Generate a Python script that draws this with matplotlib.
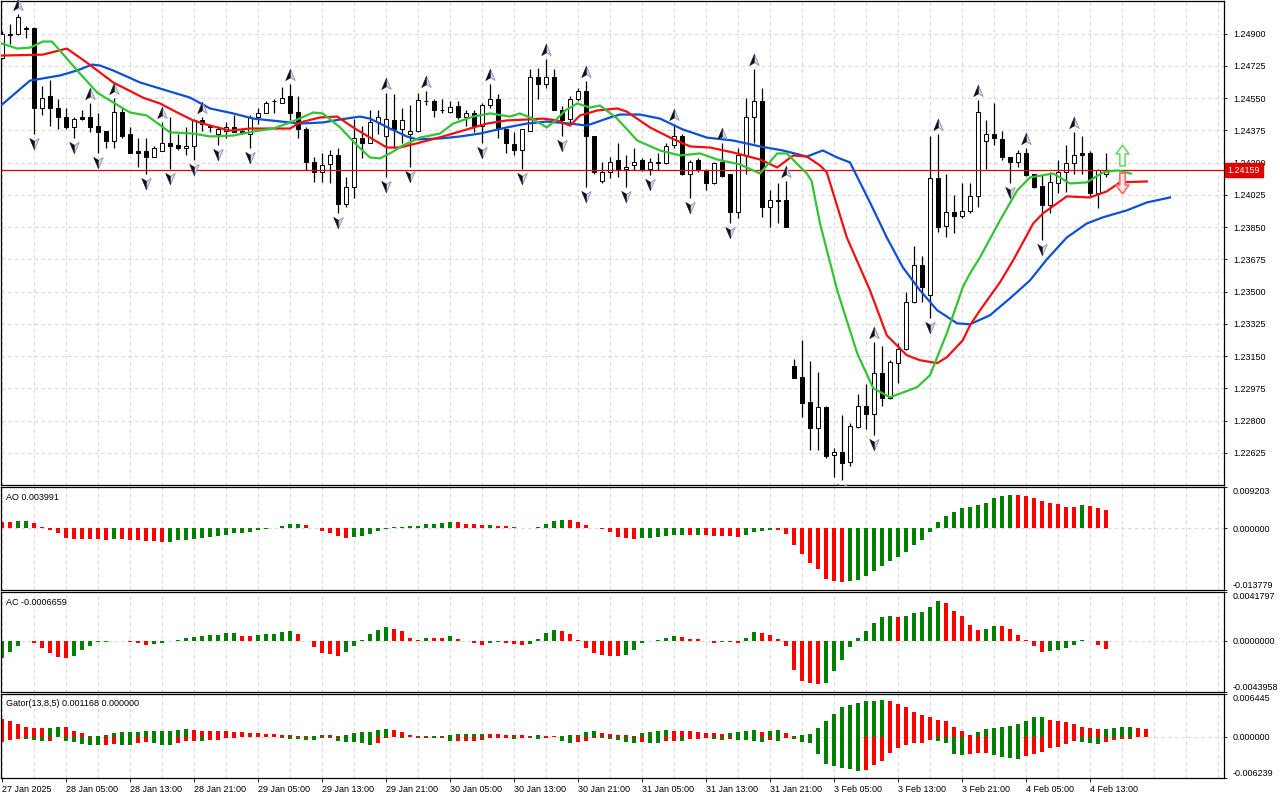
import numpy as np
import matplotlib
matplotlib.use('Agg')
from matplotlib import pyplot as plt
from matplotlib.path import Path
from matplotlib import transforms

plt.rcParams['font.family'] = ['Liberation Sans', 'DejaVu Sans']

# H1 bars, 27 Jan 21:00 .. 4 Feb 15:00 (index 0..138)
opens = [
    1.24770, 1.24900, 1.24900, 1.24933, 1.24933, 1.24499, 1.24559, 1.24499, 1.24445, 1.24396,
    1.24445, 1.24445, 1.24401, 1.24369, 1.24320, 1.24477, 1.24353, 1.24261, 1.24261, 1.24228,
    1.24261, 1.24309, 1.24293, 1.24282, 1.24288, 1.24434, 1.24401, 1.24353, 1.24374, 1.24396,
    1.24369, 1.24358, 1.24445, 1.24472, 1.24537, 1.24526, 1.24559, 1.24477, 1.24380, 1.24201,
    1.24147, 1.24190, 1.24244, 1.23973, 1.24066, 1.24336, 1.24304, 1.24418, 1.24347, 1.24434,
    1.24385, 1.24353, 1.24369, 1.24537, 1.24537, 1.24488, 1.24477, 1.24510, 1.24450, 1.24472,
    1.24401, 1.24515, 1.24548, 1.24380, 1.24299, 1.24271, 1.24374, 1.24667, 1.24629, 1.24662,
    1.24488, 1.24439, 1.24548, 1.24586, 1.24342, 1.24098, 1.24147, 1.24212, 1.24168, 1.24185,
    1.24212, 1.24168, 1.24201, 1.24196, 1.24293, 1.24342, 1.24136, 1.24212, 1.24158, 1.24087,
    1.24201, 1.24136, 1.23930, 1.24244, 1.24450, 1.24532, 1.23957, 1.23995, 1.23995, 1.23095,
    1.23036, 1.22900, 1.22759, 1.22873, 1.22613, 1.22629, 1.22575, 1.22765, 1.22879, 1.22835,
    1.23057, 1.22922, 1.23112, 1.23187, 1.23442, 1.23643, 1.23480, 1.24114, 1.23854, 1.23930,
    1.23908, 1.23935, 1.24017, 1.24315, 1.24358, 1.24326, 1.24228, 1.24201, 1.24250, 1.24136,
    1.24071, 1.23968, 1.24087, 1.24147, 1.24196, 1.24250, 1.24250, 1.24033, 1.24141]
highs = [
    1.24916, 1.24954, 1.25009, 1.24944, 1.24938, 1.24618, 1.24651, 1.24548, 1.24494, 1.24445,
    1.24483, 1.24526, 1.24472, 1.24374, 1.24553, 1.24499, 1.24396, 1.24336, 1.24336, 1.24288,
    1.24418, 1.24445, 1.24358, 1.24391, 1.24439, 1.24445, 1.24412, 1.24401, 1.24418, 1.24456,
    1.24385, 1.24456, 1.24499, 1.24537, 1.24548, 1.24613, 1.24629, 1.24564, 1.24391, 1.24233,
    1.24255, 1.24266, 1.24277, 1.24120, 1.24439, 1.24401, 1.24488, 1.24488, 1.24580, 1.24575,
    1.24499, 1.24515, 1.24580, 1.24591, 1.24548, 1.24548, 1.24532, 1.24537, 1.24483, 1.24483,
    1.24526, 1.24629, 1.24575, 1.24385, 1.24364, 1.24385, 1.24710, 1.24716, 1.24765, 1.24710,
    1.24510, 1.24564, 1.24607, 1.24645, 1.24347, 1.24201, 1.24233, 1.24304, 1.24239, 1.24277,
    1.24223, 1.24223, 1.24250, 1.24304, 1.24412, 1.24358, 1.24212, 1.24223, 1.24163, 1.24201,
    1.24309, 1.24141, 1.24282, 1.24553, 1.24710, 1.24607, 1.24049, 1.24087, 1.24103, 1.23133,
    1.23236, 1.23122, 1.23063, 1.22879, 1.22651, 1.22830, 1.22786, 1.22944, 1.22998, 1.23225,
    1.23204, 1.23128, 1.23220, 1.23496, 1.23746, 1.23692, 1.24347, 1.24358, 1.24136, 1.24022,
    1.24087, 1.24087, 1.24542, 1.24429, 1.24526, 1.24369, 1.24233, 1.24266, 1.24282, 1.24141,
    1.24131, 1.24147, 1.24212, 1.24293, 1.24364, 1.24342, 1.24261, 1.24163, 1.24250]
lows = [
    1.24765, 1.24846, 1.24895, 1.24878, 1.24358, 1.24456, 1.24401, 1.24385, 1.24385, 1.24336,
    1.24434, 1.24364, 1.24255, 1.24282, 1.24277, 1.24336, 1.24250, 1.24174, 1.24141, 1.24228,
    1.24261, 1.24168, 1.24271, 1.24244, 1.24212, 1.24374, 1.24364, 1.24293, 1.24336, 1.24364,
    1.24353, 1.24277, 1.24412, 1.24467, 1.24472, 1.24521, 1.24429, 1.24331, 1.24158, 1.24093,
    1.24093, 1.24087, 1.23925, 1.23957, 1.24006, 1.24223, 1.24304, 1.24358, 1.24120, 1.24282,
    1.24304, 1.24174, 1.24364, 1.24515, 1.24445, 1.24472, 1.24472, 1.24439, 1.24401, 1.24364,
    1.24309, 1.24499, 1.24336, 1.24250, 1.24239, 1.24168, 1.24374, 1.24548, 1.24607, 1.24483,
    1.24342, 1.24412, 1.24537, 1.24066, 1.24136, 1.24087, 1.24114, 1.24120, 1.24066, 1.24158,
    1.24152, 1.24131, 1.24158, 1.24190, 1.24282, 1.24131, 1.24006, 1.24147, 1.24049, 1.24082,
    1.24120, 1.23870, 1.23897, 1.24141, 1.24304, 1.23903, 1.23849, 1.23870, 1.23849, 1.23030,
    1.22819, 1.22640, 1.22640, 1.22597, 1.22494, 1.22477, 1.22553, 1.22759, 1.22754, 1.22721,
    1.22879, 1.22916, 1.23003, 1.23182, 1.23437, 1.23442, 1.23355, 1.23822, 1.23794, 1.23816,
    1.23897, 1.23925, 1.23962, 1.24163, 1.24293, 1.24212, 1.24087, 1.24174, 1.24125, 1.24060,
    1.23778, 1.23925, 1.24033, 1.24038, 1.24141, 1.24141, 1.24011, 1.23952, 1.24120]
closes = [
    1.24900, 1.24895, 1.24992, 1.24927, 1.24499, 1.24553, 1.24499, 1.24445, 1.24396, 1.24439,
    1.24439, 1.24396, 1.24364, 1.24320, 1.24477, 1.24347, 1.24250, 1.24255, 1.24228, 1.24282,
    1.24309, 1.24288, 1.24277, 1.24288, 1.24434, 1.24412, 1.24396, 1.24380, 1.24391, 1.24364,
    1.24364, 1.24445, 1.24472, 1.24526, 1.24532, 1.24553, 1.24472, 1.24380, 1.24201, 1.24147,
    1.24185, 1.24244, 1.23973, 1.24066, 1.24331, 1.24304, 1.24418, 1.24445, 1.24439, 1.24385,
    1.24434, 1.24369, 1.24542, 1.24532, 1.24488, 1.24483, 1.24504, 1.24445, 1.24472, 1.24401,
    1.24515, 1.24548, 1.24380, 1.24304, 1.24271, 1.24380, 1.24667, 1.24629, 1.24662, 1.24488,
    1.24429, 1.24548, 1.24586, 1.24342, 1.24147, 1.24147, 1.24206, 1.24158, 1.24179, 1.24206,
    1.24158, 1.24201, 1.24199, 1.24288, 1.24342, 1.24136, 1.24206, 1.24158, 1.24087, 1.24196,
    1.24125, 1.23930, 1.24244, 1.24450, 1.24532, 1.23957, 1.24000, 1.23990, 1.23849, 1.23030,
    1.22895, 1.22759, 1.22873, 1.22608, 1.22629, 1.22570, 1.22770, 1.22879, 1.22835, 1.23057,
    1.22922, 1.23117, 1.23187, 1.23442, 1.23643, 1.23523, 1.24114, 1.23849, 1.23930, 1.23908,
    1.23935, 1.24017, 1.24477, 1.24358, 1.24331, 1.24228, 1.24201, 1.24250, 1.24131, 1.24066,
    1.23968, 1.24093, 1.24147, 1.24196, 1.24244, 1.24244, 1.24033, 1.24158, 1.24159]
last_price = 1.24159

# fractals (bar index)
fractal_up = [2, 11, 14, 20, 25, 36, 48, 53, 61, 68, 73, 84, 90, 94, 98, 109, 117, 122, 128, 134]
fractal_dn = [4, 9, 12, 18, 21, 24, 27, 31, 42, 48, 51, 60, 65, 70, 73, 78, 81, 86, 91, 105, 109,
              116, 126, 130]

# Alligator lines (bar position, price), already shifted forward
jaw_x = [0, 3.5, 7.25, 9.4, 11.25, 12.25, 13.9, 17.25, 20.6, 23.5, 26, 28.9, 31.4, 36, 37.25,
         40.1, 42.25, 44.75, 46, 48.5, 50.6, 51.9, 54.75, 57.25, 59.75, 63.1, 65.6, 68.1, 71, 73.1,
         76, 77.25, 79.75, 82.25, 85.1, 88.1, 91.4, 94.75, 97.6, 100.6, 102.6, 104.4, 106, 108.5,
         110.6, 112.6, 114.75, 116.9, 119.4, 121, 123.5, 126, 128.5, 130.6, 133.1, 135.6, 137.6,
         140.6, 143.1, 146]
jaw_y = [1.24515, 1.24645, 1.24673, 1.24700, 1.24732, 1.24727, 1.24700, 1.24635, 1.24591, 1.24553,
         1.24494, 1.24467, 1.24439, 1.24418, 1.24412, 1.24418, 1.24434, 1.24450, 1.24439, 1.24385,
         1.24342, 1.24326, 1.24331, 1.24342, 1.24358, 1.24391, 1.24412, 1.24423, 1.24412, 1.24401,
         1.24445, 1.24461, 1.24461, 1.24439, 1.24380, 1.24336, 1.24320, 1.24288, 1.24266, 1.24233,
         1.24266, 1.24228, 1.24201, 1.23984, 1.23794, 1.23632, 1.23507, 1.23399, 1.23328, 1.23323,
         1.23372, 1.23464, 1.23561, 1.23675, 1.23794, 1.23870, 1.23903, 1.23941, 1.23984, 1.24011]
teeth_x = [0, 5.1, 8.1, 10.6, 13.9, 16.4, 17.6, 19.75, 21.9, 23.9, 26, 28.5, 31, 36, 37.25, 39.75,
           41.9, 43.9, 46, 48.1, 49.75, 52.25, 55.1, 58.1, 60.6, 63.1, 65.6, 67.6, 69.4, 71, 72.25,
           74.4, 76.9, 78.1, 81, 83.5, 86, 88.5, 91.4, 94.75, 96.9, 98.9, 100.6, 102.25, 103.1,
           105.6, 108.5, 110.6, 113.1, 114.75, 116.9, 118.1, 120.1, 121, 122.25, 123.5, 124.75,
           126.4, 128.9, 130.1, 133.1, 136, 138.1, 139.75, 143.1]
teeth_y = [1.24781, 1.24786, 1.24819, 1.24743, 1.24635, 1.24580, 1.24553, 1.24521, 1.24472, 1.24429,
           1.24401, 1.24374, 1.24385, 1.24385, 1.24418, 1.24445, 1.24450, 1.24391, 1.24336, 1.24282,
           1.24282, 1.24309, 1.24342, 1.24380, 1.24412, 1.24429, 1.24434, 1.24439, 1.24429, 1.24401,
           1.24456, 1.24483, 1.24494, 1.24477, 1.24391, 1.24336, 1.24288, 1.24282, 1.24255, 1.24217,
           1.24174, 1.24239, 1.24233, 1.24185, 1.24147, 1.23794, 1.23507, 1.23263, 1.23155, 1.23128,
           1.23112, 1.23144, 1.23236, 1.23317, 1.23399, 1.23475, 1.23551, 1.23670, 1.23870, 1.23924,
           1.24017, 1.24011, 1.24044, 1.24093, 1.24098]
lips_x = [0, 1.9, 3.5, 5.1, 6.25, 9.4, 11.9, 13.5, 16, 18.1, 21, 23.9, 26, 28.9, 31.4, 33.9, 36,
          36.9, 38.9, 40.1, 42.25, 44.4, 46, 47.25, 48.5, 50.1, 52.25, 54.75, 56.4, 58.9, 61, 63.5,
          64.75, 66, 68.1, 69.2, 70.4, 71.9, 73.5, 74.75, 76.9, 79.4, 82.25, 84.75, 87.25, 89.4,
          92.25, 94.75, 96.9, 98.1, 100.6, 101.2, 102.25, 104.4, 106.9, 108.9, 111, 114.4, 116,
          118.1, 120.1, 121, 122.25, 124.75, 126.9, 128.5, 131.4, 133.5, 135.6, 137.6, 139.4, 141.1]
lips_y = [1.24846, 1.24819, 1.24824, 1.24857, 1.24857, 1.24700, 1.24580, 1.24537, 1.24472, 1.24456,
          1.24364, 1.24358, 1.24342, 1.24347, 1.24369, 1.24385, 1.24418, 1.24434, 1.24472, 1.24467,
          1.24391, 1.24293, 1.24228, 1.24223, 1.24250, 1.24293, 1.24336, 1.24358, 1.24412, 1.24450,
          1.24467, 1.24450, 1.24467, 1.24445, 1.24391, 1.24430, 1.24483, 1.24521, 1.24499, 1.24510,
          1.24439, 1.24320, 1.24266, 1.24239, 1.24250, 1.24217, 1.24190, 1.24141, 1.24250, 1.24250,
          1.24141, 1.24100, 1.23870, 1.23507, 1.23166, 1.22976, 1.22927, 1.22982, 1.23047, 1.23274,
          1.23524, 1.23599, 1.23686, 1.23887, 1.24049, 1.24120, 1.24141, 1.24087, 1.24093, 1.24147,
          1.24158, 1.24141]

# signal arrows on the last bars (bar, price)
sig_up = (140, 1.24239)
sig_dn = (140, 1.24087)

ao = [
    0.00144, 0.00129, 0.00152, 0.00155, 0.00106, 0.00030, -0.00030, -0.00099, -0.00227, -0.00235,
    -0.00237, -0.00240, -0.00243, -0.00258, -0.00235, -0.00243, -0.00258, -0.00273, -0.00276, -0.00288,
    -0.00303, -0.00300, -0.00265, -0.00258, -0.00250, -0.00227, -0.00190, -0.00174, -0.00144, -0.00105,
    -0.00099, -0.00076, -0.00045, -0.00015, 0.00003, 0.00053, 0.00091, 0.00099, 0.00076, -0.00003,
    -0.00053, -0.00114, -0.00174, -0.00212, -0.00190, -0.00170, -0.00121, -0.00053, -0.00015, 0.00023,
    0.00038, 0.00045, 0.00053, 0.00099, 0.00101, 0.00106, 0.00144, 0.00129, 0.00099, 0.00097,
    0.00076, 0.00078, 0.00053, 0.00050, 0.00038, 0.00015, 0.00012, 0.00030, 0.00099, 0.00159,
    0.00190, 0.00188, 0.00144, 0.00076, 0.00015, -0.00023, -0.00080, -0.00190, -0.00220, -0.00235,
    -0.00212, -0.00210, -0.00190, -0.00174, -0.00152, -0.00150, -0.00153, -0.00144, -0.00152, -0.00174,
    -0.00176, -0.00178, -0.00197, -0.00144, -0.00076, -0.00060, -0.00045, -0.00047, -0.00121, -0.00379,
    -0.00576, -0.00766, -0.00917, -0.01122, -0.01175, -0.01198, -0.01175, -0.01145, -0.01061, -0.00948,
    -0.00834, -0.00720, -0.00652, -0.00538, -0.00379, -0.00265, -0.00076, 0.00129, 0.00265, 0.00356,
    0.00447, 0.00470, 0.00508, 0.00561, 0.00675, 0.00712, 0.00735, 0.00733, 0.00712, 0.00675,
    0.00606, 0.00561, 0.00531, 0.00485, 0.00482, 0.00508, 0.00505, 0.00462, 0.003991]
ac = [
    -0.00152, -0.00100, -0.00043, -0.00006, -0.00023, -0.00066, -0.00109, -0.00143, -0.00152, -0.00129,
    -0.00077, -0.00043, -0.00014, -0.00011, -0.00006, -0.00003, -0.00014, -0.00023, -0.00034, -0.00029,
    -0.00023, -0.00003, 0.00006, 0.00023, 0.00029, 0.00037, 0.00046, 0.00049, 0.00063, 0.00069,
    0.00043, 0.00037, 0.00046, 0.00054, 0.00056, 0.00072, 0.00080, 0.00054, -0.00006, -0.00057,
    -0.00103, -0.00117, -0.00129, -0.00100, -0.00043, 0.00006, 0.00054, 0.00089, 0.00114, 0.00103,
    0.00080, 0.00026, 0.00006, 0.00026, 0.00025, 0.00024, 0.00037, 0.00017, -0.00003, -0.00023,
    -0.00034, -0.00023, -0.00014, -0.00023, -0.00024, -0.00034, -0.00029, 0.00011, 0.00063, 0.00094,
    0.00086, 0.00054, 0.00006, -0.00066, -0.00109, -0.00120, -0.00129, -0.00134, -0.00120, -0.00077,
    -0.00023, -0.00006, 0.00009, 0.00023, 0.00037, 0.00034, 0.00017, 0.00016, -0.00006, -0.00023,
    -0.00014, -0.00015, -0.00016, 0.00023, 0.00077, 0.00069, 0.00051, 0.00017, -0.00049, -0.00249,
    -0.00343, -0.00366, -0.00367, -0.00365, -0.00257, -0.00163, -0.00057, 0.00026, 0.00086, 0.00154,
    0.00200, 0.00215, 0.00200, 0.00209, 0.00240, 0.00249, 0.00292, 0.00343, 0.00326, 0.00257,
    0.00215, 0.00137, 0.00094, 0.00103, 0.00129, 0.00128, 0.00103, 0.00051, 0.00009, -0.00049,
    -0.00100, -0.00092, -0.00077, -0.00066, -0.00037, 0.00004, -0.00006, -0.00037, -0.0006659]
gator_up = [
    0.00270, 0.00234, 0.00193, 0.00143, 0.00127, 0.00125, 0.00130, 0.00143, 0.00140, 0.00092,
    0.00051, 0.00010, 0.00015, 0.00031, 0.00051, 0.00066, 0.00068, 0.00070, 0.00081, 0.00083,
    0.00085, 0.00087, 0.00102, 0.00117, 0.00107, 0.00092, 0.00081, 0.00080, 0.00079, 0.00071,
    0.00066, 0.00051, 0.00050, 0.00041, 0.00040, 0.00031, 0.00020, 0.00015, 0.00010, 0.00015,
    0.00020, 0.00019, 0.00015, 0.00030, 0.00056, 0.00066, 0.00076, 0.00102, 0.00117, 0.00102,
    0.00066, 0.00031, 0.00010, 0.00005, 0.00010, 0.00015, 0.00025, 0.00035, 0.00040, 0.00042,
    0.00045, 0.00040, 0.00035, 0.00030, 0.00025, 0.00020, 0.00015, 0.00020, 0.00015, 0.00010,
    0.00015, 0.00020, 0.00030, 0.00066, 0.00092, 0.00061, 0.00041, 0.00025, 0.00020, 0.00015,
    0.00061, 0.00076, 0.00092, 0.00094, 0.00090, 0.00088, 0.00086, 0.00076, 0.00061, 0.00051,
    0.00041, 0.00051, 0.00076, 0.00092, 0.00094, 0.00076, 0.00092, 0.00097, 0.00061, 0.00010,
    0.00020, 0.00041, 0.00127, 0.00239, 0.00341, 0.00448, 0.00484, 0.00509, 0.00534, 0.00545,
    0.00550, 0.00534, 0.00494, 0.00448, 0.00366, 0.00331, 0.00290, 0.00255, 0.00239, 0.00153,
    0.00092, 0.00025, 0.00076, 0.00112, 0.00137, 0.00153, 0.00155, 0.00193, 0.00239, 0.00290,
    0.00295, 0.00255, 0.00239, 0.00229, 0.00193, 0.00153, 0.00137, 0.00110, 0.001168, 0.00130,
    0.00145, 0.00150, 0.00135, 0.00120]
gator_dn = [
    -0.00076, -0.00046, -0.00036, -0.00038, -0.00051, -0.00066, -0.00064, -0.00010, -0.00066, -0.00087,
    -0.00112, -0.00127, -0.00129, -0.00125, -0.00112, -0.00127, -0.00129, -0.00102, -0.00087, -0.00102,
    -0.00127, -0.00129, -0.00102, -0.00066, -0.00064, -0.00068, -0.00051, -0.00050, -0.00025, -0.00015,
    -0.00005, -0.00002, -0.00005, -0.00003, -0.00002, -0.00015, -0.00036, -0.00037, -0.00046, -0.00048,
    -0.00025, -0.00027, -0.00061, -0.00076, -0.00087, -0.00102, -0.00127, -0.00102, -0.00025, -0.00010,
    -0.00015, -0.00005, -0.00015, -0.00025, -0.00026, -0.00020, -0.00066, -0.00064, -0.00062, -0.00060,
    -0.00051, -0.00025, -0.00024, -0.00020, -0.00036, -0.00020, -0.00025, -0.00036, -0.00025, -0.00010,
    -0.00066, -0.00102, -0.00087, -0.00060, -0.00020, -0.00025, -0.00030, -0.00051, -0.00087, -0.00102,
    -0.00087, -0.00090, -0.00095, -0.00066, -0.00060, -0.00066, -0.00041, -0.00036, -0.00025, -0.00041,
    -0.00051, -0.00041, -0.00051, -0.00056, -0.00066, -0.00076, -0.00051, -0.00061, -0.00025, -0.00030,
    -0.00087, -0.00092, -0.00255, -0.00417, -0.00443, -0.00473, -0.00494, -0.00519, -0.00499, -0.00433,
    -0.00366, -0.00244, -0.00178, -0.00127, -0.00102, -0.00090, -0.00045, -0.00060, -0.00102, -0.00265,
    -0.00280, -0.00255, -0.00250, -0.00245, -0.00280, -0.00305, -0.00316, -0.00331, -0.00295, -0.00255,
    -0.00229, -0.00178, -0.00153, -0.00117, -0.00070, -0.00076, -0.00102, -0.00104, -0.00076, -0.00051,
    -0.00040, -0.00030]

price_ticks = [1.24900, 1.24725, 1.24550, 1.24375, 1.24200, 1.24025, 1.23850, 1.23675, 1.23500,
               1.23325, 1.23150, 1.22975, 1.22800, 1.22625]
ao_ticks = [0.009203, 0.0, -0.013779]
ac_ticks = [0.0041797, 0.0, -0.0043958]
gator_ticks = [0.006445, 0.0, -0.006239]
time_pos = [0, 8, 16, 24, 32, 40, 48, 56, 64, 72, 80, 88, 96, 104, 112, 120, 128, 136]
time_lab = ['27 Jan 2025', '28 Jan 05:00', '28 Jan 13:00', '28 Jan 21:00', '29 Jan 05:00',
            '29 Jan 13:00', '29 Jan 21:00', '30 Jan 05:00', '30 Jan 13:00', '30 Jan 21:00',
            '31 Jan 05:00', '31 Jan 13:00', '31 Jan 21:00', '3 Feb 05:00', '3 Feb 13:00',
            '3 Feb 21:00', '4 Feb 05:00', '4 Feb 13:00']

GREEN = '#008000'
RED = '#ff0000'
GRID = '#d9d9d9'
W, H = 1280, 800


def rect(x0, y0, x1, y1):
    return [x0 / W, 1 - y1 / H, (x1 - x0) / W, (y1 - y0) / H]


def colors_of(vals, first, use_abs=False):
    v = np.abs(vals) if use_abs else np.asarray(vals)
    cols = [first]
    for a, b in zip(v[:-1], v[1:]):
        cols.append(GREEN if b > a else RED)
    return cols


fig = plt.figure(figsize=(12.8, 8), dpi=100)
fig.patch.set_facecolor('white')
ax1 = fig.add_axes(rect(1, 1, 1224, 485))
ax2 = fig.add_axes(rect(1, 487, 1224, 590))
ax3 = fig.add_axes(rect(1, 592, 1224, 692))
ax4 = fig.add_axes(rect(1, 694, 1224, 778))

xlim = (-0.125, 152.75)
for ax in (ax1, ax2, ax3, ax4):
    ax.set_xlim(*xlim)
    ax.set_xticks(np.arange(0, 153, 4), minor=True)
    ax.set_xticks([])
    ax.grid(True, which='minor', axis='x', color=GRID, linestyle=(0, (3, 3)), linewidth=0.8)
    ax.tick_params(axis='x', which='both', length=0, labelbottom=False)
    ax.yaxis.tick_right()
    ax.tick_params(axis='y', which='major', direction='out', length=2.5, width=0.6, pad=4,
                   labelsize=6.5, colors='black')
    for s in ax.spines.values():
        s.set_linewidth(0.9)
        s.set_color('black')
    ax.set_axisbelow(True)

# ---- main price panel
bars = np.arange(len(opens))
o = np.array(opens)
c = np.array(closes)
body_low = np.minimum(o, c)
body_h = np.abs(c - o)
body_col = ['white' if cc >= oo else 'black' for oo, cc in zip(o, c)]
ax1.vlines(bars, lows, highs, color='black', linewidth=0.9, zorder=2)
ax1.bar(bars, body_h, bottom=body_low, width=0.56, color=body_col, edgecolor='black',
        linewidth=0.7, zorder=3)

ax1.plot(jaw_x, jaw_y, color='#0b50d8', linewidth=1.6, zorder=4)
ax1.plot(teeth_x, teeth_y, color='#f01010', linewidth=1.6, zorder=4)
ax1.plot(lips_x, lips_y, color='#33c433', linewidth=1.6, zorder=4)

ax1.axhline(last_price, color='#e00000', linewidth=0.9, zorder=3)

# fractal arrowheads: light full head with a dark left half on top
up_head = Path([(0, 1), (0.75, -0.8), (0, -0.35), (-0.75, -0.8), (0, 1)],
               [Path.MOVETO, Path.LINETO, Path.LINETO, Path.LINETO, Path.CLOSEPOLY])
up_half = Path([(0, 1), (0, -0.35), (-0.75, -0.8), (0, 1)],
               [Path.MOVETO, Path.LINETO, Path.LINETO, Path.CLOSEPOLY])
dn_head = Path([(0, -1), (0.75, 0.8), (0, 0.35), (-0.75, 0.8), (0, -1)],
               [Path.MOVETO, Path.LINETO, Path.LINETO, Path.LINETO, Path.CLOSEPOLY])
dn_half = Path([(0, -1), (0, 0.35), (-0.75, 0.8), (0, -1)],
               [Path.MOVETO, Path.LINETO, Path.LINETO, Path.CLOSEPOLY])
tr_up = transforms.offset_copy(ax1.transData, fig=fig, x=0, y=9, units='dots')
tr_dn = transforms.offset_copy(ax1.transData, fig=fig, x=0, y=-9, units='dots')
up_y = [highs[i] for i in fractal_up]
dn_y = [lows[i] for i in fractal_dn]
ax1.plot(fractal_up, up_y, linestyle='none', marker=up_head, markersize=9,
         markerfacecolor='#d4d8ee', markeredgecolor='#8a93b8', markeredgewidth=0.6,
         transform=tr_up, zorder=5, clip_on=False)
ax1.plot(fractal_up, up_y, linestyle='none', marker=up_half, markersize=9,
         markerfacecolor='#101010', markeredgecolor='#101010', markeredgewidth=0.3,
         transform=tr_up, zorder=6, clip_on=False)
ax1.plot(fractal_dn, dn_y, linestyle='none', marker=dn_head, markersize=9,
         markerfacecolor='#d4d8ee', markeredgecolor='#8a93b8', markeredgewidth=0.6,
         transform=tr_dn, zorder=5)
ax1.plot(fractal_dn, dn_y, linestyle='none', marker=dn_half, markersize=9,
         markerfacecolor='#101010', markeredgecolor='#101010', markeredgewidth=0.3,
         transform=tr_dn, zorder=6)

blk_up = Path([(0, 1), (0.62, 0.15), (0.26, 0.15), (0.26, -1), (-0.26, -1), (-0.26, 0.15),
               (-0.62, 0.15), (0, 1)])
blk_dn = Path([(0, -1), (0.62, -0.15), (0.26, -0.15), (0.26, 1), (-0.26, 1), (-0.26, -0.15),
               (-0.62, -0.15), (0, -1)])
ax1.plot([sig_up[0]], [sig_up[1]], marker=blk_up, markersize=15, markerfacecolor='#f4fff0',
         markeredgecolor='#72d872', markeredgewidth=1.2, zorder=7)
ax1.plot([sig_dn[0]], [sig_dn[1]], marker=blk_dn, markersize=15, markerfacecolor='#ffe6e6',
         markeredgecolor='#ff6b6b', markeredgewidth=1.2, zorder=7)

ax1.set_ylim(1.22451, 1.25077)
ax1.set_yticks(price_ticks)
ax1.set_yticklabels(['%.5f' % p for p in price_ticks])
ax1.grid(True, which='major', axis='y', color=GRID, linestyle=(0, (3, 3)), linewidth=0.8)
trans_lbl = transforms.blended_transform_factory(ax1.transAxes, ax1.transData)
ax1.text(1.003, last_price, '%.5f' % last_price, transform=trans_lbl, ha='left', va='center',
         color='white', fontsize=6.5,
         bbox=dict(boxstyle='square,pad=0.28', facecolor='#e00000', edgecolor='#e00000'))


def sub_panel(ax, ticks, fmt, name):
    ax.set_ylim(ticks[2], ticks[0])
    ax.set_yticks(ticks)
    labs = ax.set_yticklabels([fmt % t for t in ticks])
    labs[0].set_verticalalignment('top')
    labs[2].set_verticalalignment('bottom')
    ax.axhline(0, color=GRID, linestyle=(0, (3, 3)), linewidth=0.8, zorder=0)
    ax.text(0.004, 0.94, name, transform=ax.transAxes, ha='left', va='top', fontsize=6.5)


# ---- AO
ax2.bar(bars, ao, width=0.5, color=colors_of(ao, RED), linewidth=0)
sub_panel(ax2, ao_ticks, '%.6f', 'AO 0.003991')

# ---- AC
ax3.bar(bars, ac, width=0.5, color=colors_of(ac, GREEN), linewidth=0)
sub_panel(ax3, ac_ticks, '%.7f', 'AC -0.0006659')

# ---- Gator
ax4.bar(np.arange(len(gator_up)), gator_up, width=0.5,
        color=colors_of(gator_up, RED, use_abs=True), linewidth=0)
ax4.bar(np.arange(len(gator_dn)), gator_dn, width=0.5,
        color=colors_of(gator_dn, RED, use_abs=True), linewidth=0)
sub_panel(ax4, gator_ticks, '%.6f', 'Gator(13,8,5) 0.001168 0.000000')

ax4.set_xticks(time_pos)
ax4.set_xticklabels(time_lab, ha='left')
ax4.tick_params(axis='x', which='major', length=3, width=0.6, direction='out', pad=2,
                labelsize=6.5, labelbottom=True)
ax4.grid(True, which='major', axis='x', color=GRID, linestyle=(0, (3, 3)), linewidth=0.8)

plt.savefig('out.png', dpi=100, facecolor='white')
